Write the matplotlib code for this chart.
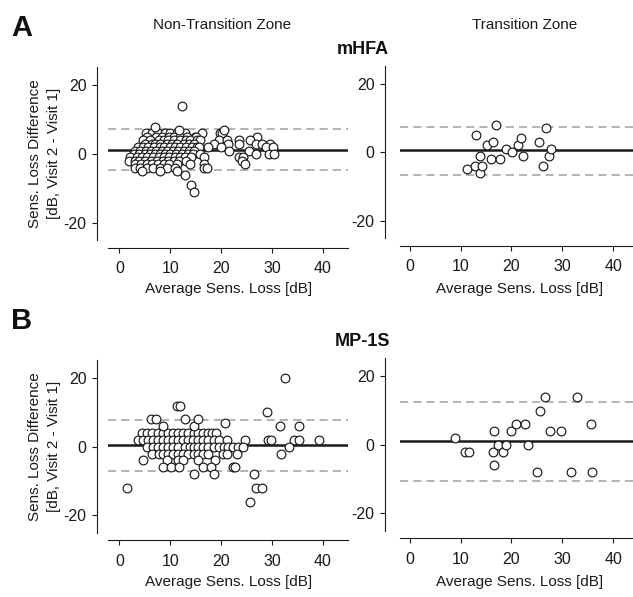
import matplotlib
matplotlib.use("Agg")
import matplotlib.pyplot as plt

plt.rcParams['font.family'] = ['Liberation Sans', 'DejaVu Sans']
plt.rcParams['axes.unicode_minus'] = False

# ---------------- data ----------------
x_ticks = [0, 10, 20, 30, 40]
y_ticks = [-20, 0, 20]
col_titles = ["Non-Transition Zone", "Transition Zone"]
row_titles = ["mHFA", "MP-1S"]
row_letters = ["A", "B"]
x_label = "Average Sens. Loss [dB]"
y_label_1 = "Sens. Loss Difference"
y_label_2 = "[dB, Visit 2 - Visit 1]"

# mHFA, non-transition zone
mhfa_ntz_x = [
    5.2, 6.4, 7.5, 9.0, 10.0, 11.3, 12.9, 16.3, 19.7, 20.1,
    5.4, 7.2, 8.3, 9.8, 10.8, 11.9, 13.2, 14.9, 15.0, 27.0,
    4.7, 6.0, 7.7, 8.7, 9.6, 10.8, 11.9, 13.1, 13.9, 15.3, 15.8, 19.5, 21.1, 23.5, 25.6,
    5.1, 6.4, 7.0, 8.0, 9.3, 10.3, 11.3, 12.6, 13.6, 14.6, 18.5, 21.4, 23.6, 26.8, 28.0, 29.6,
    3.7, 4.7, 5.7, 6.7, 7.9, 8.8, 10.0, 11.0, 11.9, 13.1, 14.2, 15.2, 15.7, 17.5, 20.0, 28.9, 30.2,
    3.1, 4.1, 5.2, 6.2, 7.2, 8.3, 9.4, 10.6, 11.6, 12.6, 13.6, 14.7, 21.6, 25.4,
    2.8, 3.9, 5.1, 6.0, 7.0, 8.0, 9.0, 10.0, 11.1, 12.3, 13.4, 14.4, 15.9, 26.8, 29.4, 30.3,
    2.1, 3.4, 4.4, 5.4, 6.6, 7.7, 8.7, 9.8, 11.0, 11.9, 12.9, 14.0, 16.7, 23.6, 24.2,
    1.8, 3.0, 3.9, 5.1, 6.2, 7.3, 8.5, 9.6, 10.8, 11.8, 13.1, 24.1,
    3.1, 4.2, 5.4, 6.4, 7.5, 8.7, 9.8, 11.3, 13.9, 16.7, 24.7,
    3.0, 4.1, 5.4, 6.6, 8.0, 9.3, 11.0, 16.7, 17.3,
    4.5, 7.9, 11.3,
    12.8, 14.1, 14.7, 11.8, 20.5, 6.9, 12.3,
]
mhfa_ntz_y = [
    6, 6, 6, 6, 6, 6, 6, 6, 6, 6,
    5, 5, 5, 5, 5, 5, 5, 5, 5, 5,
    4, 4, 4, 4, 4, 4, 4, 4, 4, 4, 4, 4, 4, 4, 4,
    3, 3, 3, 3, 3, 3, 3, 3, 3, 3, 3, 3, 3, 3, 3, 3,
    2, 2, 2, 2, 2, 2, 2, 2, 2, 2, 2, 2, 2, 2, 2, 2, 2,
    1, 1, 1, 1, 1, 1, 1, 1, 1, 1, 1, 1, 1, 1,
    0, 0, 0, 0, 0, 0, 0, 0, 0, 0, 0, 0, 0, 0, 0, 0,
    -1, -1, -1, -1, -1, -1, -1, -1, -1, -1, -1, -1, -1, -1, -1,
    -2, -2, -2, -2, -2, -2, -2, -2, -2, -2, -2, -2,
    -3, -3, -3, -3, -3, -3, -3, -3, -3, -3, -3,
    -4, -4, -4, -4, -4, -4, -4, -4, -4,
    -5, -5, -5,
    -6, -9, -11, 7, 7, 8, 14,
]

# mHFA, transition zone
mhfa_tz_x = [11.3, 12.8, 13.8, 14.2, 13.8, 13.1, 15.2, 15.9, 16.4, 16.9, 17.8,
             18.9, 20.1, 21.3, 21.9, 22.3, 25.5, 26.2, 26.7, 27.3, 27.7]
mhfa_tz_y = [-5, -4, -6, -4, -1, 5, 2, -2, 3, 8, -2,
             1, 0, 2, 4, -1, 3, -4, 7, -1, 1]

# MP-1S, non-transition zone
mp_ntz_x = [
    4.4, 5.4, 6.4, 7.5, 8.5, 9.5, 10.5, 11.5, 12.5, 13.4, 14.6, 15.5, 16.5, 17.5, 18.2, 19.0,
    3.7, 4.7, 5.7, 6.6, 7.5, 8.5, 9.5, 10.5, 11.5, 12.5, 13.4, 14.4, 15.5, 16.5, 17.5, 18.5,
    19.5, 21.1, 24.6, 29.3, 29.8, 34.3, 35.3, 39.3,
    5.4, 6.6, 7.5, 8.5, 9.5, 10.5, 11.5, 12.8, 13.8, 14.6, 15.5, 16.5, 17.5, 18.5, 19.5,
    20.5, 21.4, 22.4, 23.4, 24.2, 33.4,
    6.4, 7.7, 8.5, 9.5, 10.5, 11.5, 12.5, 13.4, 14.6, 15.5, 16.5, 17.5, 20.3, 21.2, 23.1, 31.7,
    4.7, 9.3, 11.5, 12.5, 15.5, 18.8,
    8.5, 10.1, 11.8, 16.5, 18.0, 22.4, 22.8,
    14.6, 18.5, 26.5,
    1.5, 26.8, 28.0,
    25.6,
    8.5, 14.6, 31.6, 35.3,
    20.8,
    6.2, 7.2, 12.8, 15.5,
    29.1,
    11.3, 11.9,
    32.6,
]
mp_ntz_y = [
    4, 4, 4, 4, 4, 4, 4, 4, 4, 4, 4, 4, 4, 4, 4, 4,
    2, 2, 2, 2, 2, 2, 2, 2, 2, 2, 2, 2, 2, 2, 2, 2,
    2, 2, 2, 2, 2, 2, 2, 2,
    0, 0, 0, 0, 0, 0, 0, 0, 0, 0, 0, 0, 0, 0, 0,
    0, 0, 0, 0, 0, 0,
    -2, -2, -2, -2, -2, -2, -2, -2, -2, -2, -2, -2, -2, -2, -2, -2,
    -4, -4, -4, -4, -4, -4,
    -6, -6, -6, -6, -6, -6, -6,
    -8, -8, -8,
    -12, -12, -12,
    -16,
    6, 6, 6, 6,
    7,
    8, 8, 8, 8,
    10,
    12, 12,
    20,
]

# MP-1S, transition zone
mp_tz_x = [8.8, 10.8, 11.6, 16.6, 16.3, 16.6, 17.3, 18.4, 18.9, 19.9, 20.8,
           22.6, 23.3, 25.0, 25.6, 26.5, 27.6, 29.8, 31.8, 32.8, 35.6, 35.8]
mp_tz_y = [2, -2, -2, 4, -2, -6, 0, -2, 0, 4, 6,
           6, 0, -8, 10, 14, 4, 4, -8, 14, 6, -8]

# mean difference and limits of agreement (lower, mean, upper)
mhfa_ntz_lines = [-4.8, 1.2, 7.2]
mhfa_tz_lines = [-6.7, 0.5, 7.3]
mp_ntz_lines = [-7.1, 0.4, 7.9]
mp_tz_lines = [-10.5, 1.0, 12.6]

panels = [
    [(mhfa_ntz_x, mhfa_ntz_y, mhfa_ntz_lines), (mhfa_tz_x, mhfa_tz_y, mhfa_tz_lines)],
    [(mp_ntz_x, mp_ntz_y, mp_ntz_lines), (mp_tz_x, mp_tz_y, mp_tz_lines)],
]

# ---------------- layout (pixels) ----------------
W, H = 633, 597
fig = plt.figure(figsize=(W / 100, H / 100), dpi=100)
PT = 0.72  # points per pixel at 100 dpi

row_shift = [0, 292.7]
col_geom = [
    # left, top, width, height, xlim, left-spine offset, bottom-spine offset
    (108.3, 67.3, 240, 172.7, (-2.2, 45.0), 11.0, 7.7),
    (399.6, 65.5, 240, 172.7, (-2.0, 45.2), 14.6, 7.4),
]
ylim = (-25.1, 25.3)

for r in range(2):
    for c in range(2):
        left, top, w, h, xlim, loff, boff = col_geom[c]
        top = top + row_shift[r]
        ax = fig.add_axes([left / W, 1 - (top + h) / H, w / W, h / H])
        xs, ys, lines = panels[r][c]
        ax.set_xlim(*xlim)
        ax.set_ylim(*ylim)
        ax.axhline(lines[1], color='#1a1a1a', lw=1.8, zorder=2)
        for v in (lines[0], lines[2]):
            ax.axhline(v, color='#b3b3b3', lw=1.4, ls=(0, (4.2, 2.6)), zorder=1)
        ax.plot(xs, ys, 'o', ms=6.3, mfc='white', mec='#1a1a1a', mew=0.85,
                zorder=3, clip_on=False)
        for s in ('top', 'right'):
            ax.spines[s].set_visible(False)
        ax.spines['left'].set_position(('outward', loff * PT))
        ax.spines['bottom'].set_position(('outward', boff * PT))
        for s in ('left', 'bottom'):
            ax.spines[s].set_linewidth(0.8)
            ax.spines[s].set_color('#1a1a1a')
        ax.set_xticks(x_ticks)
        ax.set_yticks(y_ticks)
        ax.tick_params(direction='out', length=3.6, width=0.8, labelsize=11.5,
                       colors='#1a1a1a')
        ax.tick_params(axis='x', pad=6)
        ax.tick_params(axis='y', pad=4)
        ax.patch.set_visible(False)
        cx = left + w / 2
        fig.text(cx / W, 1 - (289 + row_shift[r]) / H, x_label, ha='center',
                 va='center', fontsize=11, color='#1a1a1a')
        if c == 0:
            cy = top + h / 2
            fig.text(35 / W, 1 - cy / H, y_label_1, rotation=90, ha='center',
                     va='center', fontsize=11, color='#1a1a1a')
            fig.text(54 / W, 1 - cy / H, y_label_2, rotation=90, ha='center',
                     va='center', fontsize=11, color='#1a1a1a')
    fig.text(22 / W, 1 - (28 + row_shift[r]) / H, row_letters[r], ha='center',
             va='center', fontsize=21, fontweight='bold', color='#111111')
    fig.text(363 / W, 1 - (49 + row_shift[r]) / H, row_titles[r], ha='center',
             va='center', fontsize=13, fontweight='bold', color='#111111')

fig.text(222 / W, 1 - 25 / H, col_titles[0], ha='center', va='center',
         fontsize=11, color='#1a1a1a')
fig.text(525 / W, 1 - 25 / H, col_titles[1], ha='center', va='center',
         fontsize=11, color='#1a1a1a')

fig.savefig("out.png", dpi=100)
